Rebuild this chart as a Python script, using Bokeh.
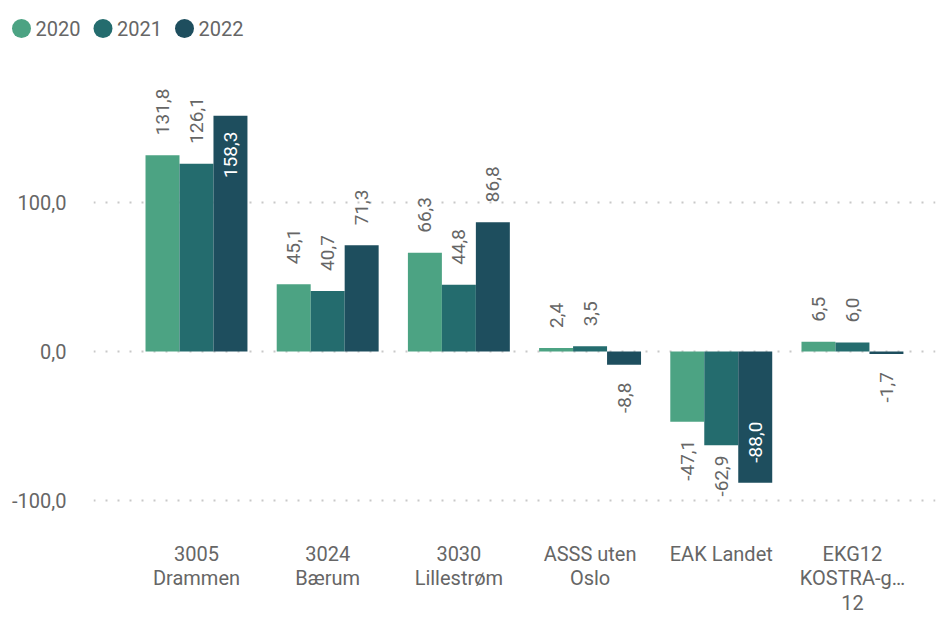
import math
from bokeh.plotting import figure
from bokeh.layouts import column
from bokeh.models import ColumnDataSource, FixedTicker, Range1d
from bokeh.core.properties import value
from bokeh.embed import file_html
from bokeh.resources import INLINE

# ---- data ----
categories = ["3005 Drammen", "3024 Bærum", "3030 Lillestrøm",
              "ASSS uten Oslo", "EAK Landet", "EKG12 KOSTRA-gruppe 12"]
category_labels = ["3005\nDrammen", "3024\nBærum", "3030\nLillestrøm",
                   "ASSS uten\nOslo", "EAK Landet", "EKG12\nKOSTRA-g…\n12"]
years = ["2020", "2021", "2022"]
v2020 = [131.8, 45.1, 66.3, 2.4, -47.1, 6.5]
v2021 = [126.1, 40.7, 44.8, 3.5, -62.9, 6.0]
v2022 = [158.3, 71.3, 86.8, -8.8, -88.0, -1.7]
y_ticks = [-100, 0, 100]
y_tick_labels = ["-100,0", "0,0", "100,0"]

# ---- style ----
colors = ["#4ca383", "#246c6e", "#1e4e5e"]
FONT = "Roboto"
TXT = "#666666"
BAR_W = 0.259
Y_START, Y_END = -101.3, 198.0

LEG_H = 56
MAIN_H, B_TOP, B_BOT = 617 - LEG_H, 0, 115
B_LEFT, B_RIGHT = 93, 10
PX = (MAIN_H - B_TOP - B_BOT) / (Y_END - Y_START)   # pixels per data unit
GAP_POS, GAP_NEG, GAP_IN_POS, GAP_IN_NEG = 20, 18, 16, 20   # label gaps, px
LABEL_LEN = 47                                                # label length, px


def label_layout(v):
    """return (anchor_y, align, y_offset_px, colour) for a data label"""
    if v >= 0:
        if v + (GAP_POS + LABEL_LEN) / PX > Y_END:
            return v, "right", GAP_IN_POS, "#ffffff"
        return v, "left", -GAP_POS, TXT
    if v - (GAP_NEG + LABEL_LEN) / PX >= Y_START:
        return v, "right", GAP_NEG, TXT
    nudged = Y_START + LABEL_LEN / PX
    if nudged < v:
        return nudged, "right", 0, TXT
    return v, "left", -GAP_IN_NEG, "#ffffff"


# ---- legend row (its own small figure) ----
LEG_STEP = 81.5      # px between legend entries
LEG_X0 = 21          # px, centre of the first marker
leg = figure(width=945, height=LEG_H, output_backend="svg", toolbar_location=None,
             x_axis_type=None, y_axis_type=None, min_border=0,
             min_border_left=0, min_border_right=0,
             min_border_top=0, min_border_bottom=0)
can_unalign = "frame_align" in type(leg).properties()
if can_unalign:
    leg.frame_align = False
    leg_left, leg_right = 0, 945
else:   # frames get aligned with the main chart
    leg_left, leg_right = B_LEFT, 945 - B_RIGHT
    LEG_X0 = max(LEG_X0, leg_left + 12)
leg.x_range = Range1d((leg_left - LEG_X0) / LEG_STEP, (leg_right - LEG_X0) / LEG_STEP)
leg.y_range = Range1d(-1, 1)
leg.outline_line_color = None
leg.grid.visible = False
leg_src = ColumnDataSource(dict(x=list(range(len(years))), y=[0] * len(years),
                                year=years, color=colors))
leg.scatter(x="x", y="y", source=leg_src, size=19, marker="circle",
            fill_color="color", line_color=None)
leg.text(x="x", y="y", text="year", source=leg_src, x_offset=14,
         text_align="left", text_baseline="middle", text_color=TXT,
         text_font=value(FONT), text_font_size="20px")

# ---- main chart ----
p = figure(width=945, height=MAIN_H, output_backend="svg", toolbar_location=None,
           x_range=Range1d(-0.785, 5.633), y_range=Range1d(Y_START, Y_END),
           min_border_left=B_LEFT, min_border_right=B_RIGHT, min_border_top=B_TOP,
           min_border_bottom=B_BOT)
if can_unalign:
    p.frame_align = False
p.outline_line_color = None
p.xgrid.grid_line_color = None

series = [v2020, v2021, v2022]
for k, (yr, vals) in enumerate(zip(years, series)):
    off = (k - 1) * BAR_W
    xs = [i + off for i in range(len(categories))]
    lay = [label_layout(v) for v in vals]
    src = ColumnDataSource(dict(
        x=xs, top=vals, cat=categories,
        label=[f"{v:.1f}".replace(".", ",") for v in vals],
        ly=[l[0] for l in lay], align=[l[1] for l in lay],
        yoff=[l[2] for l in lay], tcol=[l[3] for l in lay],
    ))
    p.vbar(x="x", top="top", bottom=0, width=BAR_W, source=src,
           fill_color=colors[k], line_color=None)
    p.text(x="x", y="ly", text="label", source=src, angle=math.pi / 2,
           text_align="align", text_baseline="middle", y_offset="yoff",
           text_color="tcol", text_font=value(FONT), text_font_size="19px")

# y axis
p.yaxis.ticker = FixedTicker(ticks=y_ticks)
p.yaxis.major_label_overrides = {t: s for t, s in zip(y_ticks, y_tick_labels)}
p.yaxis.axis_line_color = None
p.yaxis.major_tick_line_color = None
p.yaxis.minor_tick_line_color = None
p.yaxis.major_label_standoff = 21
p.yaxis.major_label_text_font = FONT
p.yaxis.major_label_text_font_size = "20px"
p.yaxis.major_label_text_color = TXT

p.ygrid.ticker = FixedTicker(ticks=y_ticks)
p.ygrid.grid_line_color = "#c8c8c8"
p.ygrid.grid_line_dash = "2 10"
p.ygrid.grid_line_width = 2

# x axis
p.xaxis.ticker = FixedTicker(ticks=list(range(len(categories))))
p.xaxis.major_label_overrides = {i: s for i, s in enumerate(category_labels)}
p.xaxis.axis_line_color = None
p.xaxis.major_tick_line_color = None
p.xaxis.minor_tick_line_color = None
p.xaxis.major_label_standoff = 33
p.xaxis.major_label_text_font = FONT
p.xaxis.major_label_text_font_size = "20px"
p.xaxis.major_label_text_color = TXT
p.xaxis.major_label_text_line_height = 1.03

open("out.html", "w").write(file_html(column(leg, p), INLINE))
